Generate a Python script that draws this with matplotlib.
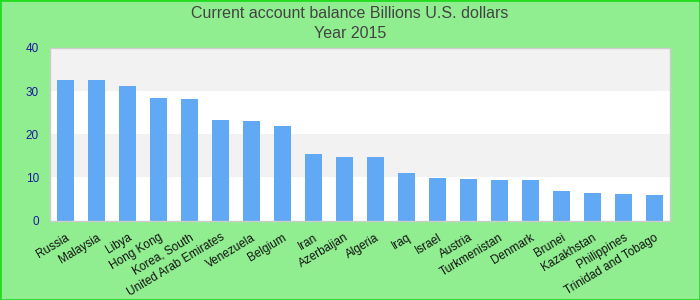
import matplotlib
matplotlib.use("Agg")
import matplotlib.pyplot as plt
from matplotlib.transforms import ScaledTranslation

countries = ["Russia", "Malaysia", "Libya", "Hong Kong", "Korea, South",
             "United Arab Emirates", "Venezuela", "Belgium", "Iran", "Azerbaijan",
             "Algeria", "Iraq", "Israel", "Austria", "Turkmenistan", "Denmark",
             "Brunei", "Kazakhstan", "Philippines", "Trinidad and Tobago"]
values = [32.5, 32.5, 31.1, 28.4, 28.2, 23.3, 23.1, 21.8, 15.4, 14.8,
          14.8, 11.1, 9.9, 9.7, 9.3, 9.3, 6.8, 6.3, 6.1, 5.9]
yticks = [0, 10, 20, 30, 40]

plt.rcParams['font.family'] = ['Liberation Sans', 'DejaVu Sans']

fig = plt.figure(figsize=(7, 3), dpi=100, facecolor='#90ee90')
ax = fig.add_axes([50/700, (300-220.5)/300, 620/700, (220.5-48)/300])
ax.set_facecolor('white')

# alternating bands
for i in range(len(yticks) - 1):
    if i % 2 == 1:
        ax.axhspan(yticks[i], yticks[i+1], color='#f2f2f2', zorder=0, lw=0)

x = list(range(len(countries)))
ax.bar(x, values, width=0.55, color='#62a9f5', zorder=2)
ax.set_xlim(-0.5, len(countries) - 0.5)
ax.set_ylim(0, 40)
ax.set_yticks(yticks)
ax.set_yticklabels([str(v) for v in yticks], color='#1a1a9a', fontsize=8.5)
ax.set_xticks(x)
ax.set_xticklabels(countries, rotation=31, ha='right', rotation_mode='anchor',
                   fontsize=8.5, color='#111111')
offset = ScaledTranslation(-4/100, 0, fig.dpi_scale_trans)
for lbl in ax.get_xticklabels():
    lbl.set_transform(lbl.get_transform() + offset)
ax.tick_params(axis='both', length=0)
ax.tick_params(axis='y', pad=8)
ax.tick_params(axis='x', pad=8)
for s in ax.spines.values():
    s.set_color('#cccccc')
    s.set_linewidth(1)

fig.text(0.5, 1 - 13.5/300, "Current account balance Billions U.S. dollars",
         ha='center', va='center', fontsize=11.5, color='#444444')
fig.text(0.5, 1 - 33/300, "Year 2015", ha='center', va='center', fontsize=11.5, color='#444444')

# outer border
border = plt.Rectangle((0, 0), 1, 1, transform=fig.transFigure, fill=False,
                       edgecolor='#22dd22', linewidth=2)
fig.patches.append(border)

fig.savefig("out.png", dpi=100, facecolor=fig.get_facecolor())
